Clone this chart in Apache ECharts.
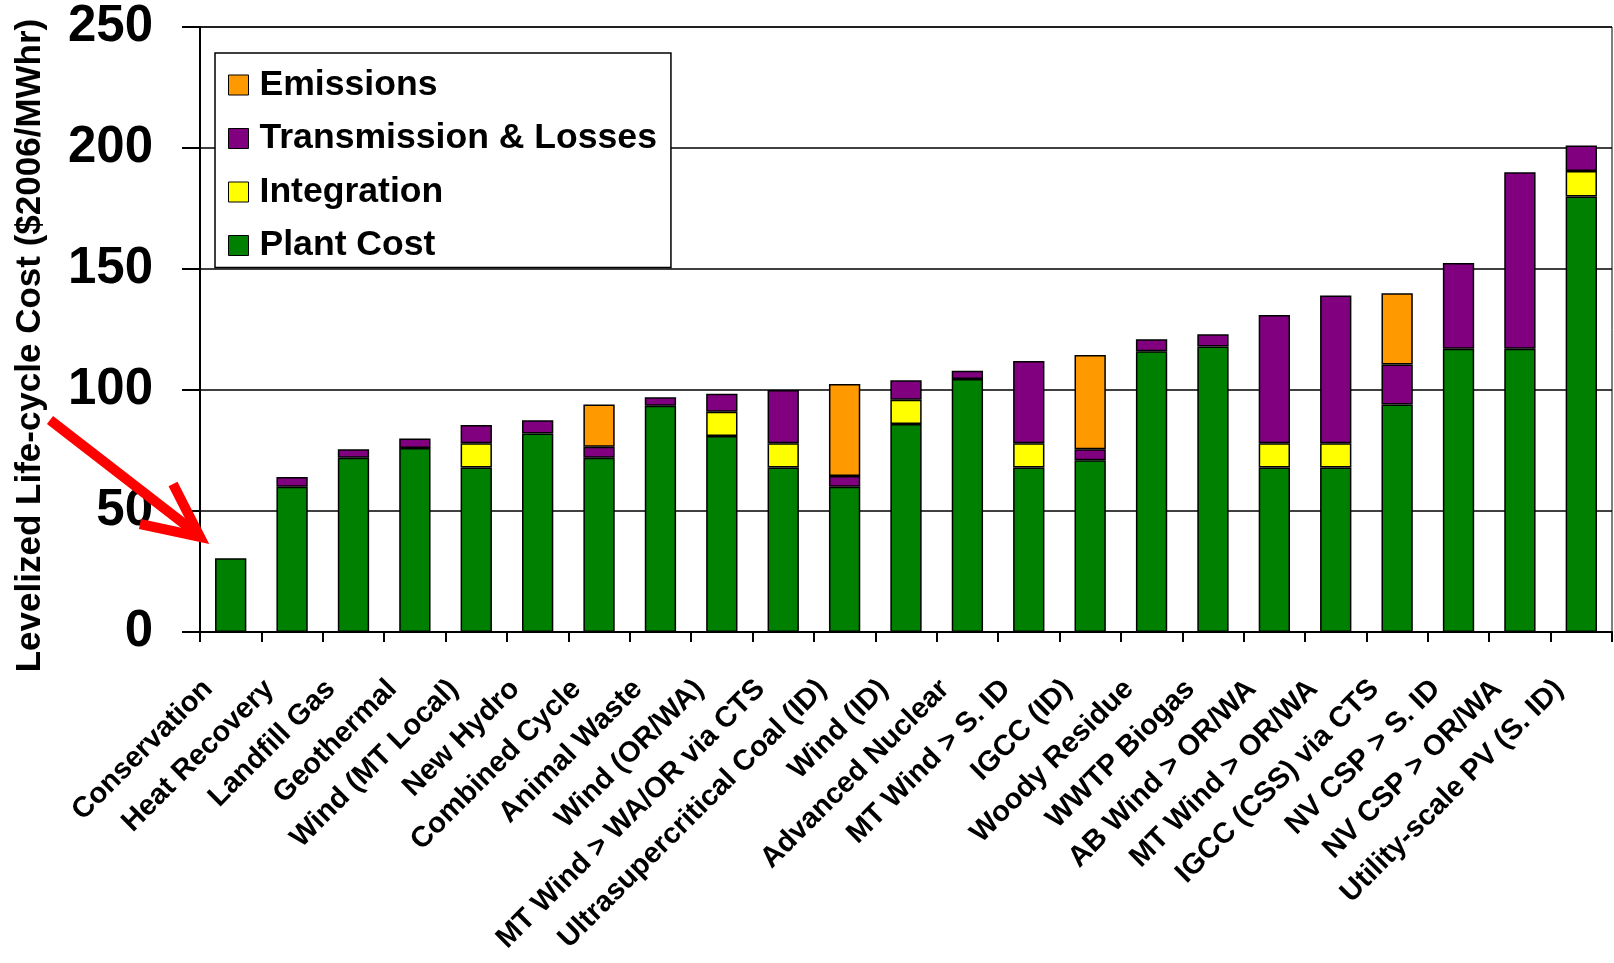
<!DOCTYPE html>
<html>
<head>
<meta charset="utf-8">
<script src="https://cdn.jsdelivr.net/npm/echarts@6/dist/echarts.min.js"></script>
<style>html,body{margin:0;padding:0;background:#fff}#c{width:1614px;height:963px}</style>
</head>
<body>
<div id="c"></div>
<script>
const categories = ['Conservation','Heat Recovery','Landfill Gas','Geothermal','Wind (MT Local)','New Hydro','Combined Cycle','Animal Waste','Wind (OR/WA)','MT Wind > WA/OR via CTS','Ultrasupercritical Coal (ID)','Wind (ID)','Advanced Nuclear','MT Wind > S. ID','IGCC (ID)','Woody Residue','WWTP Biogas','AB Wind > OR/WA','MT Wind > OR/WA','IGCC (CSS) via CTS','NV CSP > S. ID','NV CSP > OR/WA','Utility-scale PV (S. ID)'];
const plantCost = [30.5,60,72,76,68,82,72,93.5,81,68,60,86,104.5,68,71,116,118,68,68,94,117,117,180];
const integration = [null,null,null,null,10,null,null,null,10,10,null,10,null,10,null,null,null,10,10,null,null,null,10.5];
const transmission = [null,4,3.5,4,7.5,5.5,4.5,3.5,7.5,22,4.5,8,3.5,34,4.5,5,5,53,61,16.5,35.5,73,10.5];
const emissions = [null,null,null,null,null,null,17.5,null,null,null,38,null,null,null,39,null,null,null,null,29.5,null,null,null];
const yTicks = {min:0, max:250, interval:50};

const FONT = 'Arial, "Liberation Sans", sans-serif';
const chart = echarts.init(document.getElementById('c'));
function bar(name, data, color){
  return {name, type:'bar', stack:'total', data, barWidth:'51%',
    itemStyle:{color, borderColor:'#000', borderWidth:1.5}};
}
chart.setOption({
  animation:false,
  backgroundColor:'#fff',
  grid:{left:200, right:2, top:27, bottom:331, show:true, borderColor:'#000', borderWidth:1, backgroundColor:'transparent'},
  legend:{
    orient:'vertical', left:215, top:53,
    data:['Emissions','Transmission & Losses','Integration','Plant Cost'],
    backgroundColor:'#fff', borderColor:'#000', borderWidth:1.5,
    padding:[14,14,4,13], itemGap:17.5, itemWidth:20, itemHeight:20,
    icon:'rect',
    itemStyle:{borderColor:'#000', borderWidth:1},
    textStyle:{fontFamily:FONT, fontSize:35.6, fontWeight:'bold', color:'#000', lineHeight:34, padding:[0,0,0,6]}
  },
  xAxis:{
    type:'category', data:categories,
    axisLine:{lineStyle:{color:'#000', width:2}},
    axisTick:{show:true, length:10, lineStyle:{color:'#000', width:2}},
    axisLabel:{interval:0, rotate:45, margin:30, padding:[0,32,0,0], fontFamily:FONT, fontSize:29, fontWeight:'bold', color:'#000'}
  },
  yAxis:{
    type:'value', min:yTicks.min, max:yTicks.max, interval:yTicks.interval,
    name:'Levelized Life-cycle Cost ($2006/MWhr)', nameLocation:'middle', nameRotate:90, nameGap:152,
    nameTextStyle:{fontFamily:FONT, fontSize:35, fontWeight:'bold', color:'#000', padding:[0,32,0,0]},
    axisLine:{show:true, lineStyle:{color:'#000', width:2}},
    axisTick:{show:true, length:18, lineStyle:{color:'#000', width:2}},
    axisLabel:{margin:47, fontFamily:FONT, fontSize:51, fontWeight:'bold', color:'#000'},
    splitLine:{show:true, lineStyle:{color:'#000', width:1.5}}
  },
  series:[
    bar('Plant Cost', plantCost, '#008000'),
    bar('Integration', integration, '#FFFF00'),
    bar('Transmission & Losses', transmission, '#800080'),
    bar('Emissions', emissions, '#FF9900')
  ],
  graphic:[
    {type:'line', z:100, shape:{x1:50,y1:420,x2:196,y2:533}, style:{stroke:'#FF0000', lineWidth:10}},
    {type:'polyline', z:100, shape:{points:[[173,484],[200,537],[140,524]]}, style:{stroke:'#FF0000', lineWidth:10, fill:null, lineJoin:'miter'}}
  ]
});
</script>
</body>
</html>
